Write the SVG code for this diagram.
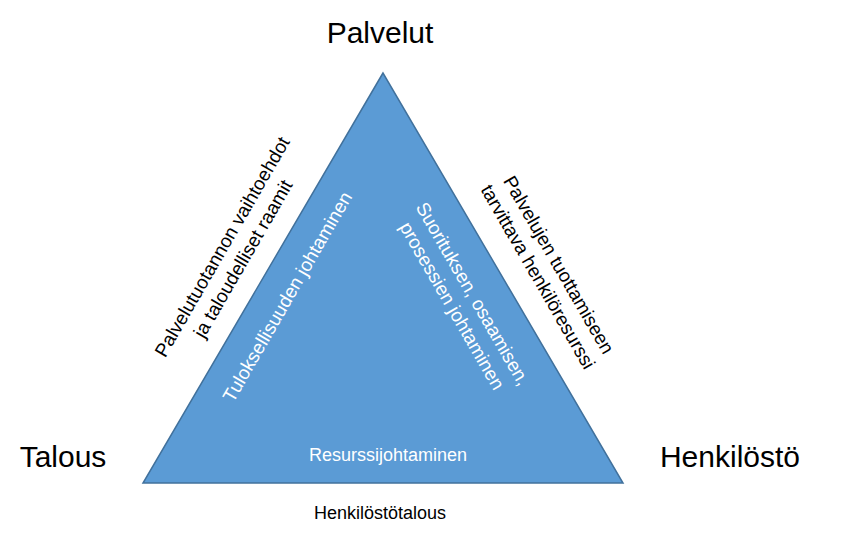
<svg xmlns="http://www.w3.org/2000/svg" width="845" height="549" viewBox="0 0 845 549">
<style>
text{font-family:"Liberation Sans",Arial,sans-serif;text-anchor:middle}
.big{font-size:30px;fill:#000}
.lbl{font-size:19px;fill:#000}
.in{font-size:19px;fill:#fff}
</style>
<rect width="845" height="549" fill="#fff"/>
<g id="triangle"><polygon points="383,73 143,483 623,483" fill="#5B9BD5" stroke="#41719C" stroke-width="1.5"/></g>
<g id="palvelut"><text class="big" x="380" y="43">Palvelut</text></g>
<g id="talous"><text class="big" x="63" y="467">Talous</text></g>
<g id="henkilosto"><text class="big" x="730" y="467">Henkilöstö</text></g>
<g id="resurssi"><text class="in" x="388" y="461" style="font-size:18px">Resurssijohtaminen</text></g>
<g id="henkilostotalous"><text class="lbl" x="380" y="519" style="font-size:18px">Henkilöstötalous</text></g>
<g id="left-out"><text class="lbl" transform="translate(233,253) rotate(-60)"><tspan x="0" y="-6">Palvelutuotannon vaihtoehdot</tspan><tspan x="0" y="18">ja taloudelliset raamit</tspan></text></g>
<g id="left-in"><text class="in" transform="translate(293,300) rotate(-60)"><tspan x="0" y="0">Tuloksellisuuden johtaminen</tspan></text></g>
<g id="right-in"><text class="in" transform="translate(462,300) rotate(60)"><tspan x="0" y="-6">Suorituksen, osaamisen,</tspan><tspan x="0" y="18">prosessien johtaminen</tspan></text></g>
<g id="right-out"><text class="lbl" transform="translate(548,271) rotate(60)"><tspan x="0" y="-6">Palvelujen tuottamiseen</tspan><tspan x="0" y="18">tarvittava henkilöresurssi</tspan></text></g>
<g id="connectors"/>
</svg>
